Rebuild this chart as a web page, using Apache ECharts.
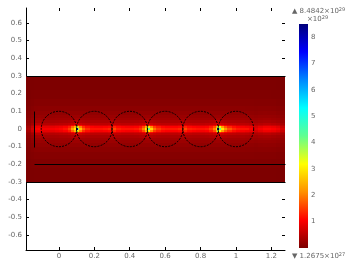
<!DOCTYPE html>
<html><head><meta charset="utf-8">
<style>html,body{margin:0;padding:0;background:#fff}#c{width:352px;height:264px}</style>
<script src="https://cdn.jsdelivr.net/npm/echarts@6/dist/echarts.min.js"></script>
</head><body><div id="c"></div>
<script>
const xTicks=[0,0.2,0.4,0.6,0.8,1,1.2];
const yTicks=[-0.6,-0.5,-0.4,-0.3,-0.2,-0.1,0,0.1,0.2,0.3,0.4,0.5,0.6];
const barTicks=[1,2,3,4,5,6,7,8];
const xEdges=[-0.186,-0.16,-0.14,-0.12,-0.1,-0.075,-0.05,-0.025,0,0.025,0.05,0.07,0.085,0.095,0.105,0.115,0.13,0.15,0.175,0.2,0.225,0.25,0.275,0.3,0.325,0.35,0.375,0.4,0.425,0.45,0.47,0.485,0.495,0.505,0.515,0.53,0.55,0.575,0.6,0.625,0.65,0.675,0.7,0.725,0.75,0.775,0.8,0.825,0.85,0.87,0.885,0.895,0.905,0.915,0.93,0.95,0.975,1,1.025,1.05,1.075,1.1,1.125,1.15,1.175,1.2,1.225,1.25,1.28];
const yEdges=[0.006,0.015,0.025,0.035,0.05,0.065,0.08,0.1,0.13,0.17,0.22,0.3];
const row0=[.4,.7,1.05,1.1,1,1,1,1.05, 1.1,1.2,1.5,2.3, 3,8.2,4,2.6, 1.8,1.4,1.2,1.2,1.2,1.25,1.35,1.6,1.3,1.2,1.2,1.2,1.25,1.45,2, 3,8.4,4.2,2.8, 1.9,1.5,1.3,1.25,1.25,1.25,1.35,1.6,1.3,1.25,1.2,1.2,1.25,1.5,2, 3,8.2,4.2,3, 2.2,1.7,1.4,1.25,1.2,1.2,1.05,.85,1,1.1,1.1,1.05,.95,.75];
const row1=[.34,.6,.92,.95,.85,.85,.85,.9, .95,1.05,1.25,1.8, 2.4,3.6,2.8,2, 1.4,1.15,1.05,1,1,1.05,1.1,1.3,1.1,1.05,1,1,1.05,1.2,1.6, 2.4,3.8,3,2.1, 1.5,1.25,1.1,1.05,1.05,1.05,1.1,1.3,1.1,1.05,1,1,1.05,1.25,1.6, 2.4,3.8,3.1,2.3, 1.7,1.35,1.15,1.05,1,.95,.9,.72,.85,.95,.95,.9,.8,.62];
const row2=[.26,.44,.7,.72,.64,.64,.64,.68, .7,.75,.85,1.05, 1.3,1.6,1.35,1.15, .95,.82,.75,.72,.72,.72,.78,.85,.78,.72,.72,.72,.75,.82,.95, 1.3,1.65,1.4,1.15, .95,.82,.76,.72,.72,.72,.78,.85,.78,.72,.72,.72,.75,.85,.95, 1.3,1.65,1.4,1.2, 1,.88,.8,.72,.72,.68,.62,.54,.62,.68,.68,.64,.58,.46];
const row3=[.2,.33,.5,.52,.46,.46,.46,.48, .5,.52,.56,.62, .7,.78,.7,.64, .58,.54,.52,.52,.52,.52,.54,.56,.54,.52,.52,.52,.54,.56,.62, .7,.78,.72,.64, .58,.54,.52,.52,.52,.52,.54,.56,.54,.52,.52,.52,.54,.56,.62, .7,.78,.72,.66, .6,.56,.54,.52,.52,.5,.46,.42,.46,.5,.5,.46,.42,.34];
const row4=[.16,.25,.36,.38,.35,.35,.35,.36, .37,.38,.4,.43, .46,.48,.46,.44, .41,.39,.38,.38,.38,.38,.39,.41,.39,.38,.38,.38,.39,.41,.43, .46,.5,.46,.44, .41,.39,.38,.38,.38,.38,.39,.41,.39,.38,.38,.38,.39,.41,.43, .46,.5,.47,.44, .42,.4,.39,.38,.38,.36,.33,.31,.34,.36,.36,.33,.3,.25];
const row5=[.13,.2,.28,.3,.28,.28,.28,.29, .3,.3,.31,.32, .33,.34,.33,.32, .31,.3,.3,.3,.3,.3,.31,.32,.31,.3,.3,.3,.3,.31,.32, .33,.34,.33,.32, .31,.3,.3,.3,.3,.3,.31,.32,.31,.3,.3,.3,.3,.31,.32, .33,.34,.33,.32, .31,.3,.3,.3,.3,.29,.27,.25,.27,.28,.28,.26,.24,.2];
const row6=[.1,.16,.22,.24,.23,.23,.23,.24, .24,.24,.25,.25, .26,.26,.26,.25, .25,.24,.24,.24,.24,.24,.25,.25,.25,.24,.24,.24,.24,.25,.25, .26,.26,.26,.25, .25,.24,.24,.24,.24,.24,.25,.25,.25,.24,.24,.24,.24,.25,.25, .26,.26,.26,.25, .25,.24,.24,.24,.24,.23,.22,.2,.22,.22,.22,.21,.19,.16];
const row7=[.08,.12,.17,.18,.18,.18,.18,.18, .18,.18,.19,.19, .19,.19,.19,.19, .19,.18,.18,.18,.18,.18,.19,.19,.19,.18,.18,.18,.18,.19,.19, .19,.19,.19,.19, .19,.18,.18,.18,.18,.18,.19,.19,.19,.18,.18,.18,.18,.19,.19, .19,.19,.19,.19, .19,.18,.18,.18,.18,.17,.16,.15,.16,.17,.16,.16,.14,.12];
const row8=[.06,.09,.12,.13,.13,.13,.13,.13, .13,.13,.13,.13, .13,.13,.13,.13, .13,.13,.13,.13,.13,.13,.13,.13,.13,.13,.13,.13,.13,.13,.13, .13,.13,.13,.13, .13,.13,.13,.13,.13,.13,.13,.13,.13,.13,.13,.13,.13,.13,.13, .13,.13,.13,.13, .13,.13,.13,.13,.13,.12,.12,.11,.12,.12,.12,.11,.1,.09];
const row9=[.04,.06,.08,.08,.08,.08,.08,.08, .08,.08,.08,.08, .08,.08,.08,.08, .08,.08,.08,.08,.08,.08,.08,.08,.08,.08,.08,.08,.08,.08,.08, .08,.08,.08,.08, .08,.08,.08,.08,.08,.08,.08,.08,.08,.08,.08,.08,.08,.08,.08, .08,.08,.08,.08, .08,.08,.08,.08,.08,.08,.08,.07,.07,.07,.07,.07,.06,.05];
const row10=[.02,.03,.04,.04,.04,.04,.04,.04, .04,.04,.04,.04, .04,.04,.04,.04, .04,.04,.04,.04,.04,.04,.04,.04,.04,.04,.04,.04,.04,.04,.04, .04,.04,.04,.04, .04,.04,.04,.04,.04,.04,.04,.04,.04,.04,.04,.04,.04,.04,.04, .04,.04,.04,.04, .04,.04,.04,.04,.04,.04,.04,.04,.04,.04,.04,.03,.03,.02];
const row11=[.01,.01,.02,.02,.02,.02,.02,.02, .02,.02,.02,.02, .02,.02,.02,.02, .02,.02,.02,.02,.02,.02,.02,.02,.02,.02,.02,.02,.02,.02,.02, .02,.02,.02,.02, .02,.02,.02,.02,.02,.02,.02,.02,.02,.02,.02,.02,.02,.02,.02, .02,.02,.02,.02, .02,.02,.02,.02,.02,.02,.02,.02,.02,.02,.02,.02,.01,.01];
const halfRows=[row0,row1,row2,row3,row4,row5,row6,row7,row8,row9,row10,row11];
const circleCenters=[0,0.2,0.4,0.6,0.8,1];
const circleRadius=[0.1];
const segments=[[-0.186,0.3,1.277,0.3],[-0.186,-0.3,1.277,-0.3],[-0.14,-0.2,1.277,-0.2],[-0.14,-0.1,-0.14,0.1]];
const colorStops=['#7c0000','#ff0000','#ff9000','#ffff00','#60ff90','#00ffff','#0088ff','#0000ff','#00007a'];
const barRange=[0,8.5];
const topLabel='8.4842×10';const topExp='29';const unitLabel='×10';const unitExp='29';const botLabel='1.2675×10';const botExp='27';

const cells=[];
halfRows.forEach((row,r)=>{
  const lo=r===0?0:yEdges[r-1];const hi=yEdges[r];
  row.forEach((v,c)=>{
    const a=xEdges[c],b=xEdges[c+1];
    if(r===0){cells.push([a,b,-hi,hi,v]);}
    else{cells.push([a,b,lo,hi,v]);cells.push([a,b,-hi,-lo,v]);}
  });
});
const font='"DejaVu Sans"';
const txt='#666';
const xMin=-0.186,xMax=1.277,yMin=-0.685,yMax=0.685;
const chart=echarts.init(document.getElementById('c'),null,{renderer:'canvas'});
const rich={s:{fontSize:5,fontFamily:font,fill:txt,verticalAlign:'top',padding:[0,0,4,0]}};
const noZero={show:false,onZero:false};
chart.setOption({
  animation:false,
  backgroundColor:'#fff',
  grid:[{left:26,top:8,width:259,height:242},{left:299,top:24,width:9,height:224}],
  xAxis:[
    {gridIndex:0,type:'value',min:xMin,max:xMax,position:'bottom',splitLine:{show:false},
      axisLine:{show:true,onZero:false,lineStyle:{color:'#000',width:1}},
      axisTick:{inside:true,length:3,customValues:xTicks,lineStyle:{color:'#000'}},
      axisLabel:{customValues:xTicks,fontSize:7,fontFamily:font,color:txt,margin:3,formatter:v=>String(v)}},
    {gridIndex:0,type:'value',min:xMin,max:xMax,position:'top',splitLine:{show:false},
      axisLine:noZero,axisTick:{inside:true,length:3,customValues:xTicks,lineStyle:{color:'#000'}},axisLabel:{show:false}},
    {gridIndex:1,type:'value',min:0,max:1,show:false}
  ],
  yAxis:[
    {gridIndex:0,type:'value',min:yMin,max:yMax,position:'left',splitLine:{show:false},
      axisLine:{show:true,onZero:false,lineStyle:{color:'#000',width:1}},
      axisTick:{inside:true,length:3,customValues:yTicks,lineStyle:{color:'#000'}},
      axisLabel:{customValues:yTicks,fontSize:7,fontFamily:font,color:txt,margin:4,formatter:v=>String(v)}},
    {gridIndex:0,type:'value',min:yMin,max:yMax,position:'right',splitLine:{show:false},
      axisLine:noZero,axisTick:{inside:true,length:3,customValues:yTicks,lineStyle:{color:'#000'}},axisLabel:{show:false}},
    {gridIndex:1,type:'value',min:barRange[0],max:barRange[1],position:'right',splitLine:{show:false},
      axisLine:noZero,axisTick:{inside:true,length:3,customValues:barTicks,lineStyle:{color:'#222'}},
      axisLabel:{customValues:barTicks,fontSize:7,fontFamily:font,color:txt,margin:3}}
  ],
  visualMap:{type:'continuous',show:false,seriesIndex:0,dimension:4,min:barRange[0],max:barRange[1],inRange:{color:colorStops}},
  series:[
    {type:'custom',xAxisIndex:0,yAxisIndex:0,silent:true,clip:true,z:1,
      encode:{x:[0,1],y:[2,3]},data:cells,
      renderItem:(p,api)=>{
        const a=api.coord([api.value(0),api.value(3)]);
        const b=api.coord([api.value(1),api.value(2)]);
        const x0=Math.round(a[0]),y0=Math.round(a[1]),x1=Math.round(b[0]),y1=Math.round(b[1]);
        return {type:'rect',shape:{x:x0,y:y0,width:x1-x0,height:y1-y0},style:{fill:api.visual('color')}};
      }},
    {type:'custom',xAxisIndex:0,yAxisIndex:0,silent:true,z:3,
      encode:{x:0},data:circleCenters.map(c=>[c,0,circleRadius[0]]),
      renderItem:(p,api)=>{
        const c=api.coord([api.value(0),api.value(1)]);
        const r=api.size([api.value(2),0])[0];
        return {type:'circle',shape:{cx:c[0],cy:c[1],r:r},style:{fill:null,stroke:'#000',lineWidth:1,lineDash:[2,1.2]}};
      }},
    {type:'custom',xAxisIndex:0,yAxisIndex:0,silent:true,z:4,
      data:segments,
      renderItem:(p,api)=>{
        const a=api.coord([api.value(0),api.value(1)]);
        const b=api.coord([api.value(2),api.value(3)]);
        return {type:'line',shape:{x1:Math.round(a[0])+.5,y1:Math.round(a[1])+.5,x2:Math.round(b[0])+.5,y2:Math.round(b[1])+.5},style:{stroke:'#000',lineWidth:1}};
      }},
    {type:'custom',xAxisIndex:2,yAxisIndex:2,silent:true,z:1,
      data:[[0,barRange[0],1,barRange[1]]],
      renderItem:(p,api)=>{
        const a=api.coord([api.value(0),api.value(3)]);
        const b=api.coord([api.value(2),api.value(1)]);
        const stops=colorStops.map((c,i)=>({offset:1-i/(colorStops.length-1),color:c}));
        stops.reverse();
        return {type:'rect',shape:{x:a[0],y:a[1],width:b[0]-a[0],height:b[1]-a[1]},
          style:{fill:new echarts.graphic.LinearGradient(0,0,0,1,stops)}};
      }}
  ],
  graphic:[
    {type:'text',left:292,top:7,style:{text:'▲ '+topLabel+'{s|'+topExp+'}',rich:rich,font:'7px '+font,fill:txt}},
    {type:'text',left:307,top:15,style:{text:unitLabel+'{s|'+unitExp+'}',rich:rich,font:'7px '+font,fill:txt}},
    {type:'text',left:292,top:252,style:{text:'▼ '+botLabel+'{s|'+botExp+'}',rich:rich,font:'7px '+font,fill:txt}}
  ]
});
</script></body></html>
